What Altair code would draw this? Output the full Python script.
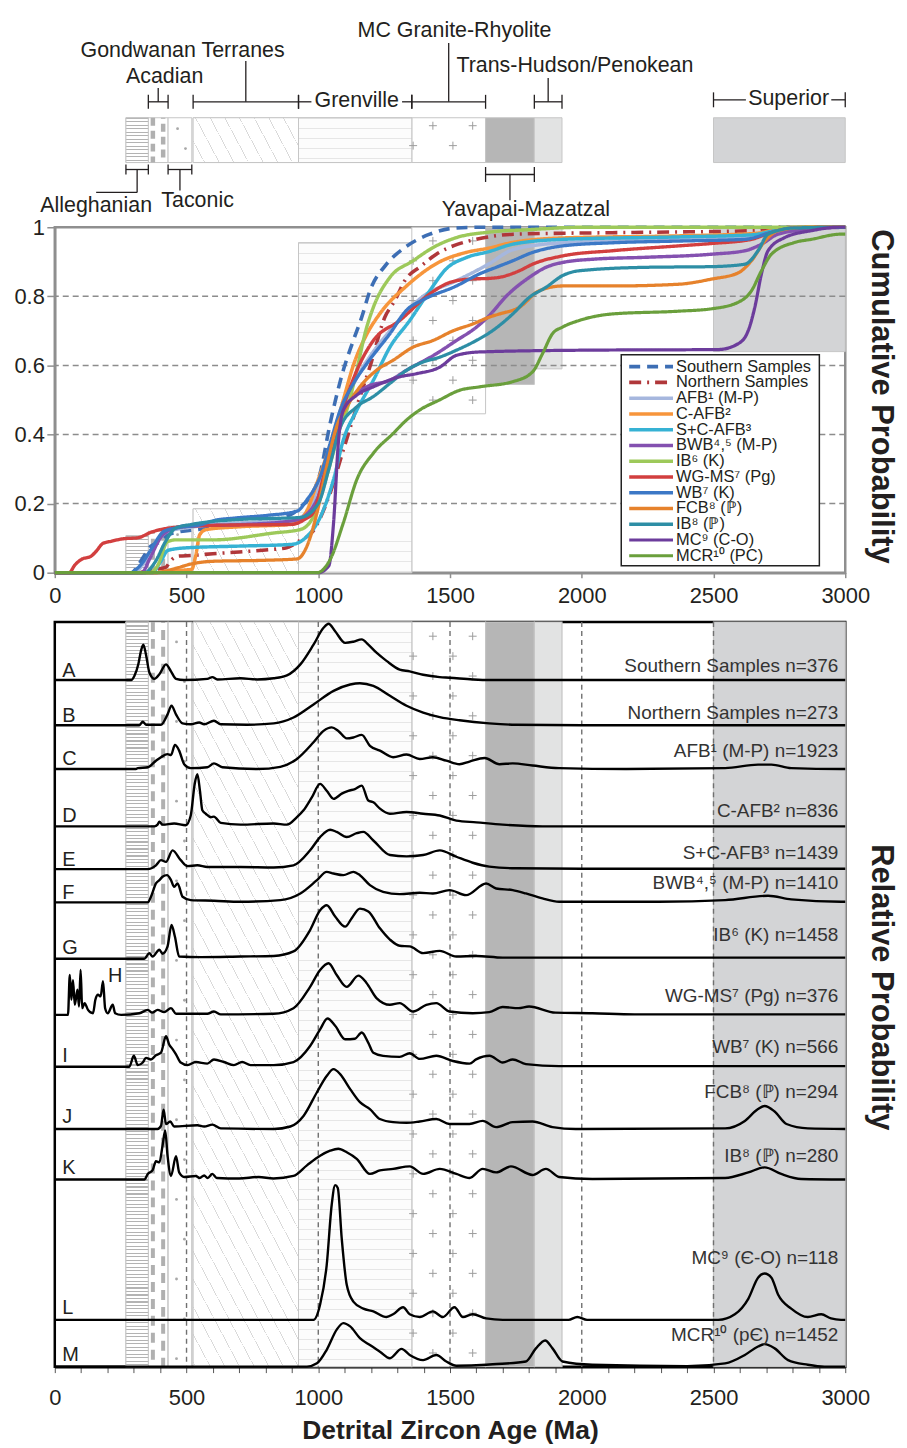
import math
import altair as alt
import pandas as pd

# ------------------------------------------------------------------ data
TERRANES = ["Alleghanian", "Acadian", "Taconic", "Gondwanan Terranes", "Grenville",
            "MC Granite-Rhyolite", "Yavapai-Mazatzal", "Trans-Hudson/Penokean", "Superior"]
T_START = [270, 355, 430, 525, 925, 1355, 1635, 1820, 2500]
T_END = [355, 430, 520, 925, 1355, 1635, 1820, 1925, 3000]
T_CUM_LOW = [0, 0, 0, 0, 0, 0.46, 0.545, 0.59, 0.64]
T_CUM_HIGH = [0.107, 0.12, 0.135, 0.185, 0.955, 1.0, 1.0, 1.0, 1.0]

SERIES = ["Southern Samples", "Northern Samples", "AFB¹ (M-P)", "C-AFB²", "S+C-AFB³",
          "BWB⁴,⁵ (M-P)", "IB⁶ (K)", "WG-MS⁷ (Pg)", "WB⁷ (K)", "FCB⁸ (ℙ)", "IB⁸ (ℙ)",
          "MC⁹ (C-O)", "MCR¹⁰ (PC)"]
LETTERS = ["A", "B", "C", "D", "E", "F", "G", "H", "I", "J", "K", "L", "M"]
REL_LABELS = ["Southern Samples n=376", "Northern Samples n=273", "AFB¹ (M-P) n=1923",
              "C-AFB² n=836", "S+C-AFB³ n=1439", "BWB⁴,⁵ (M-P) n=1410", "IB⁶ (K) n=1458",
              "WG-MS⁷ (Pg) n=376", "WB⁷ (K) n=566", "FCB⁸ (ℙ) n=294", "IB⁸ (ℙ) n=280",
              "MC⁹ (Є-O) n=118", "MCR¹⁰ (pЄ) n=1452"]
X_TICKS = [0, 500, 1000, 1500, 2000, 2500, 3000]
Y_TICKS = [0, 0.2, 0.4, 0.6, 0.8, 1.0]
GUIDE_AGES = [500, 1000, 1500, 2000, 2500]

# cumulative probability curves (age Ma, cumulative probability)
CUM_SOUTHERN = [(0,0),(290,0),(315,0.02),(340,0.05),(365,0.077),(400,0.09),(430,0.11),(470,0.118),(540,0.125),(600,0.13),(800,0.15),(900,0.17),(932,0.19),(970,0.22),(1007,0.288),(1045,0.432),(1095,0.586),(1133,0.672),(1165,0.74),(1196,0.816),(1259,0.893),(1328,0.941),(1423,0.98),(1511,0.997),(1624,1.0),(3000,1.0)]
CUM_NORTHERN = [(0,0),(320,0),(345,0.006),(420,0.015),(440,0.035),(470,0.048),(520,0.05),(600,0.055),(700,0.06),(800,0.066),(880,0.072),(930,0.093),(980,0.12),(1040,0.22),(1095,0.355),(1150,0.49),(1196,0.596),(1253,0.74),(1291,0.788),(1328,0.845),(1391,0.888),(1448,0.922),(1530,0.951),(1600,0.965),(1750,0.98),(2200,0.985),(2650,0.99),(2750,1.0),(3000,1.0)]
CUM_AFB = [(0,0),(300,0),(340,0.03),(380,0.08),(430,0.12),(500,0.13),(700,0.144),(900,0.15),(950,0.17),(1000,0.24),(1050,0.38),(1100,0.49),(1150,0.57),(1200,0.63),(1272,0.70),(1398,0.80),(1524,0.845),(1650,0.895),(1738,0.935),(1927,0.955),(2367,0.965),(2619,0.97),(2707,0.985),(2808,1.0),(3000,1.0)]
CUM_CAFB = [(0,0),(380,0),(440,0.005),(520,0.01),(535,0.05),(550,0.11),(575,0.125),(700,0.133),(900,0.14),(950,0.17),(1000,0.27),(1058,0.4),(1095,0.5),(1133,0.6),(1184,0.69),(1234,0.75),(1335,0.83),(1461,0.9),(1561,0.927),(1650,0.94),(1738,0.956),(1927,0.969),(2367,0.975),(2657,0.982),(2745,0.995),(2850,1.0),(3000,1.0)]
CUM_SCAFB = [(0,0),(370,0),(400,0.03),(430,0.065),(500,0.072),(700,0.077),(900,0.082),(950,0.1),(1007,0.16),(1058,0.27),(1095,0.384),(1146,0.47),(1209,0.557),(1272,0.653),(1347,0.73),(1423,0.816),(1486,0.88),(1561,0.912),(1650,0.93),(1738,0.951),(1927,0.965),(2367,0.972),(2644,0.978),(2745,0.992),(2850,1.0),(3000,1.0)]
CUM_BWB = [(0,0),(330,0),(360,0.04),(400,0.1),(440,0.125),(500,0.135),(700,0.139),(900,0.15),(950,0.165),(1000,0.22),(1070,0.41),(1121,0.5),(1184,0.538),(1272,0.557),(1335,0.586),(1448,0.634),(1524,0.672),(1599,0.71),(1650,0.745),(1713,0.8),(1801,0.855),(1864,0.884),(1927,0.898),(2053,0.908),(2241,0.913),(2493,0.922),(2619,0.932),(2682,0.951),(2745,0.98),(2871,0.995),(3000,1.0)]
CUM_IB6 = [(0,0),(360,0),(390,0.02),(428,0.09),(460,0.095),(600,0.095),(831,0.115),(932,0.125),(980,0.16),(1040,0.3),(1083,0.42),(1108,0.47),(1146,0.586),(1180,0.7),(1209,0.768),(1272,0.855),(1360,0.903),(1435,0.941),(1524,0.97),(1650,0.986),(1800,0.993),(2000,1.0),(3000,1.0)]
CUM_WGMS = [(0,0),(55,0),(75,0.021),(100,0.038),(138,0.048),(157,0.062),(183,0.085),(214,0.091),(258,0.098),(315,0.101),(365,0.117),(441,0.13),(600,0.137),(900,0.14),(950,0.155),(982,0.175),(1020,0.278),(1058,0.384),(1108,0.509),(1158,0.605),(1209,0.672),(1309,0.73),(1423,0.807),(1498,0.84),(1574,0.85),(1650,0.852),(1687,0.855),(1763,0.874),(1813,0.893),(1927,0.917),(2116,0.932),(2367,0.946),(2493,0.953),(2644,0.965),(2720,0.985),(2808,0.998),(3000,1.0)]
CUM_WB = [(0,0),(290,0),(310,0.01),(334,0.03),(365,0.067),(415,0.12),(466,0.13),(554,0.139),(604,0.151),(680,0.158),(806,0.166),(919,0.178),(957,0.211),(1007,0.278),(1045,0.374),(1083,0.47),(1133,0.547),(1184,0.605),(1272,0.692),(1335,0.76),(1398,0.79),(1524,0.83),(1612,0.865),(1675,0.884),(1738,0.903),(1813,0.927),(1927,0.946),(2116,0.955),(2367,0.96),(2619,0.965),(2720,0.985),(2808,0.998),(3000,1.0)]
CUM_FCB = [(0,0),(380,0),(420,0.005),(470,0.015),(516,0.025),(600,0.033),(800,0.036),(920,0.04),(957,0.077),(995,0.173),(1032,0.307),(1070,0.423),(1108,0.48),(1158,0.538),(1221,0.586),(1284,0.615),(1360,0.653),(1435,0.672),(1511,0.7),(1586,0.72),(1650,0.74),(1687,0.749),(1763,0.768),(1838,0.816),(1927,0.83),(2116,0.83),(2367,0.835),(2493,0.85),(2594,0.868),(2644,0.903),(2695,0.96),(2745,0.99),(2850,1.0),(3000,1.0)]
CUM_IB8 = [(0,0),(340,0),(380,0.03),(420,0.09),(460,0.13),(520,0.14),(700,0.154),(932,0.16),(1000,0.2),(1040,0.3),(1083,0.42),(1146,0.48),(1209,0.51),(1272,0.548),(1335,0.586),(1398,0.61),(1461,0.624),(1524,0.644),(1599,0.672),(1662,0.701),(1738,0.749),(1801,0.797),(1864,0.826),(1927,0.86),(1990,0.874),(2241,0.884),(2493,0.886),(2619,0.893),(2669,0.932),(2707,0.98),(2808,0.998),(3000,1.0)]
CUM_MC = [(0,0),(1000,0),(1040,0.02),(1058,0.144),(1077,0.384),(1095,0.47),(1146,0.514),(1209,0.538),(1309,0.567),(1372,0.576),(1461,0.595),(1524,0.629),(1612,0.639),(1990,0.644),(2518,0.646),(2594,0.663),(2632,0.701),(2657,0.769),(2682,0.865),(2707,0.932),(2770,0.97),(2871,0.99),(2972,1.0),(3000,1.0)]
CUM_MCR = [(0,0),(995,0),(1045,0.038),(1095,0.144),(1146,0.269),(1209,0.346),(1284,0.403),(1335,0.442),(1385,0.471),(1460,0.5),(1536,0.528),(1612,0.538),(1738,0.553),(1813,0.581),(1851,0.634),(1889,0.692),(1927,0.711),(1990,0.73),(2116,0.749),(2367,0.757),(2493,0.764),(2594,0.783),(2644,0.816),(2682,0.874),(2720,0.922),(2808,0.956),(2871,0.965),(2984,0.98),(3000,0.98)]

# relative probability curves (age Ma, probability scaled to each panel's peak)
REL_A = [(0,0),(290,0),(302,0.07),(317,0.27),(327,0.5),(336,0.61),(346,0.44),(359,0.13),(378,0.02),(397,0.1),(422,0.27),(441,0.15),(460,0.02),(491,0),(579,0.02),(598,0.05),(617,0.01),(705,0.03),(768,0.01),(831,0.03),(881,0.08),(932,0.27),(982,0.61),(1020,0.9),(1039,0.97),(1064,0.84),(1102,0.64),(1133,0.66),(1165,0.70),(1190,0.61),(1221,0.47),(1259,0.33),(1309,0.18),(1347,0.15),(1398,0.09),(1461,0.05),(1498,0.04),(1586,0.01),(1649,0),(3000,0)]
REL_B = [(0,0),(321,0),(334,0.08),(346,0.01),(403,0.01),(428,0.24),(443,0.43),(460,0.24),(485,0.04),(516,0.02),(548,0.06),(567,0.02),(604,0.1),(630,0.02),(730,0.01),(831,0.04),(906,0.17),(982,0.46),(1058,0.76),(1121,0.9),(1158,0.93),(1209,0.87),(1272,0.65),(1335,0.43),(1398,0.28),(1461,0.18),(1536,0.11),(1649,0.04),(1750,0.01),(2000,0),(3000,0)]
REL_C = [(0,0),(308,0),(315,0.02),(353,0.04),(384,0.19),(403,0.27),(428,0.34),(441,0.32),(456,0.55),(472,0.42),(491,0.11),(516,0.02),(579,0.04),(604,0.13),(636,0.04),(768,0),(856,0.05),(919,0.23),(982,0.61),(1020,0.87),(1051,0.95),(1076,0.87),(1108,0.7),(1133,0.72),(1165,0.78),(1196,0.53),(1234,0.42),(1284,0.27),(1335,0.33),(1385,0.23),(1435,0.27),(1486,0.19),(1536,0.11),(1574,0.17),(1631,0.25),(1688,0.11),(1738,0.13),(1813,0.08),(1914,0.02),(2166,0),(2544,0.02),(2669,0.1),(2720,0.1),(2795,0.02),(2984,0),(3000,0)]
REL_D = [(0,0),(378,0),(390,0.03),(397,0.08),(409,0.03),(453,0.05),(497,0.02),(516,0.19),(531,0.74),(541,0.91),(551,0.62),(560,0.28),(573,0.22),(592,0.16),(604,0.17),(630,0.06),(705,0.03),(831,0.05),(881,0.03),(919,0.16),(944,0.28),(976,0.51),(1007,0.74),(1032,0.62),(1058,0.48),(1089,0.57),(1114,0.62),(1139,0.65),(1165,0.71),(1190,0.45),(1209,0.42),(1234,0.31),(1272,0.22),(1335,0.25),(1398,0.22),(1461,0.19),(1524,0.1),(1600,0.07),(1700,0.03),(1851,0),(3000,0)]
REL_E = [(0,0),(353,0),(384,0.09),(403,0.21),(422,0.17),(447,0.44),(478,0.21),(504,0.07),(541,0.09),(579,0.05),(705,0.05),(831,0.04),(906,0.09),(969,0.44),(1007,0.75),(1045,0.92),(1070,0.87),(1108,0.75),(1146,0.84),(1171,0.87),(1209,0.67),(1272,0.33),(1335,0.3),(1398,0.33),(1461,0.44),(1524,0.29),(1586,0.15),(1649,0.06),(1750,0.02),(2000,0.01),(3000,0.01)]
REL_F = [(0,0),(353,0),(365,0.17),(384,0.57),(397,0.67),(409,0.77),(426,0.82),(441,0.67),(453,0.47),(466,0.57),(485,0.17),(516,0.07),(604,0.05),(705,0.02),(856,0.07),(932,0.27),(995,0.67),(1032,0.92),(1058,0.87),(1095,0.82),(1133,0.92),(1158,0.82),(1196,0.52),(1246,0.32),(1309,0.25),(1385,0.29),(1435,0.27),(1498,0.37),(1561,0.22),(1637,0.57),(1675,0.42),(1738,0.37),(1788,0.27),(1851,0.12),(1914,0.02),(2292,0.02),(2544,0.07),(2707,0.2),(2795,0.09),(2984,0.02),(3000,0.02)]
REL_G = [(0,0),(340,0),(359,0.1),(371,0.04),(397,0.16),(409,0.09),(428,0.22),(443,0.6),(456,0.39),(472,0.04),(554,0.03),(705,0.04),(831,0.05),(906,0.13),(969,0.51),(1007,0.86),(1032,0.95),(1064,0.75),(1102,0.57),(1127,0.72),(1158,0.89),(1190,0.84),(1234,0.54),(1272,0.34),(1309,0.23),(1347,0.22),(1398,0.1),(1461,0.14),(1524,0.04),(1600,0.05),(1700,0.02),(3000,0.02)]
REL_H = [(0,0),(50,0),(57,0.71),(63,0.27),(69,0.62),(76,0.18),(86,0.45),(92,0.15),(98,0.8),(104,0.12),(113,0.21),(126,0.09),(145,0.03),(154,0.27),(164,0.36),(174,0.33),(183,0.6),(191,0.12),(201,0.03),(220,0.18),(229,0.03),(252,0),(321,0.03),(353,0.09),(370,0.04),(390,0.09),(415,0.05),(441,0.12),(460,0.02),(579,0.02),(604,0.06),(630,0.01),(831,0.02),(906,0.12),(969,0.5),(1007,0.8),(1039,0.92),(1070,0.71),(1108,0.5),(1152,0.7),(1183,0.57),(1221,0.3),(1272,0.18),(1309,0.21),(1360,0.06),(1410,0.18),(1448,0.21),(1498,0.06),(1586,0.03),(1649,0.05),(1700,0.14),(1760,0.12),(1800,0.15),(1900,0.04),(2040,0.03),(2200,0.01),(3000,0.01)]
REL_I = [(0,0),(283,0),(300,0.21),(315,0.03),(334,0.08),(346,0.17),(365,0.14),(384,0.22),(403,0.27),(422,0.59),(434,0.43),(447,0.34),(460,0.24),(478,0.08),(504,0.03),(535,0.09),(579,0.06),(604,0.14),(642,0.09),(680,0.03),(711,0.09),(743,0.03),(831,0.03),(906,0.09),(969,0.4),(1007,0.72),(1035,0.93),(1064,0.79),(1102,0.53),(1139,0.54),(1165,0.66),(1190,0.46),(1209,0.27),(1246,0.21),(1309,0.19),(1347,0.26),(1385,0.15),(1448,0.21),(1511,0.11),(1574,0.06),(1599,0.14),(1650,0.21),(1700,0.08),(1738,0.14),(1788,0.05),(1914,0.01),(3000,0.01)]
REL_J = [(0,0),(390,0),(403,0.05),(413,0.31),(422,0.08),(438,0.12),(453,0.04),(541,0.06),(567,0.04),(598,0.07),(630,0.01),(831,0),(894,0.04),(944,0.21),(995,0.59),(1032,0.85),(1058,0.96),(1083,0.88),(1121,0.64),(1158,0.43),(1196,0.32),(1234,0.16),(1284,0.11),(1335,0.1),(1385,0.12),(1448,0.16),(1498,0.08),(1574,0.08),(1624,0.13),(1675,0.03),(1738,0.11),(1813,0.12),(1889,0.03),(1977,0),(2544,0.01),(2619,0.13),(2669,0.32),(2694,0.37),(2732,0.28),(2777,0.08),(2858,0.01),(3000,0)]
REL_K = [(0,0),(340,0),(353,0.11),(371,0.18),(384,0.36),(397,0.34),(409,0.67),(419,0.97),(428,0.47),(441,0.07),(460,0.46),(472,0.14),(491,0.05),(535,0.07),(550,0.03),(567,0.08),(580,0.03),(598,0.11),(615,0.03),(700,0.02),(774,0.05),(830,0.02),(906,0.07),(957,0.28),(1007,0.47),(1045,0.57),(1076,0.61),(1108,0.54),(1146,0.41),(1196,0.11),(1234,0.18),(1284,0.21),(1347,0.26),(1398,0.11),(1461,0.21),(1524,0.11),(1574,0.03),(1624,0.21),(1675,0.14),(1731,0.26),(1813,0.09),(1864,0.21),(1914,0.05),(2040,0.01),(2544,0.03),(2632,0.14),(2694,0.24),(2757,0.11),(2833,0.01),(3000,0)]
REL_L = [(0,0),(982,0),(1007,0.11),(1032,0.39),(1051,0.82),(1064,0.96),(1074,0.94),(1089,0.58),(1108,0.25),(1133,0.13),(1171,0.08),(1209,0.06),(1259,0.02),(1284,0.04),(1322,0.09),(1347,0.04),(1385,0.02),(1435,0.06),(1473,0.02),(1517,0.09),(1549,0.02),(1586,0.04),(1637,0.01),(1700,0),(1950,0),(1983,0.02),(2020,0),(2518,0),(2581,0.04),(2632,0.15),(2669,0.3),(2694,0.33),(2720,0.3),(2745,0.18),(2795,0.08),(2858,0.02),(2909,0.04),(2946,0.01),(2984,0),(3000,0)]
REL_M = [(0,0),(957,0),(995,0.07),(1032,0.36),(1070,0.79),(1095,0.93),(1121,0.86),(1158,0.61),(1196,0.46),(1234,0.32),(1272,0.18),(1316,0.38),(1347,0.25),(1398,0.14),(1448,0.25),(1486,0.11),(1524,0.02),(1637,0.04),(1662,0.05),(1788,0.11),(1826,0.39),(1861,0.56),(1889,0.39),(1927,0.11),(2040,0.04),(2400,0.01),(2544,0.07),(2619,0.25),(2669,0.43),(2694,0.48),(2732,0.39),(2783,0.14),(2858,0.04),(2921,0),(3000,0)]

CUM_CURVES = [CUM_SOUTHERN, CUM_NORTHERN, CUM_AFB, CUM_CAFB, CUM_SCAFB, CUM_BWB, CUM_IB6,
              CUM_WGMS, CUM_WB, CUM_FCB, CUM_IB8, CUM_MC, CUM_MCR]
REL_CURVES = [REL_A, REL_B, REL_C, REL_D, REL_E, REL_F, REL_G, REL_H, REL_I, REL_J, REL_K,
              REL_L, REL_M]

# ------------------------------------------------------------------ style / layout
FONT = "Liberation Sans"
INK = "#231f20"
W = 794
H_STRIP, H_CUM, H_REL = 209, 347, 748
PX = W / 3000.0
TITLE_DX = 36
SPACE_TOP, SPACE_BOTTOM = -6, 9.5
TICK_FS = 22

COLORS = ["#3d6eb4", "#b0373a", "#a6b7de", "#f7953b", "#36b2d4", "#8451b0", "#9dc95a",
          "#d23f3f", "#3c78c6", "#e6822c", "#2d8ea5", "#6c3c9c", "#6a9f3c"]
DASHES = [[11, 7], [12, 6, 2, 6]] + [[1, 0]] * 11
WIDTHS = [3.6, 3.2, 3.0] + [2.2] * 10
FILLS = ["#ffffff", "#ffffff", "#ffffff", "#ffffff", "#fcfcfc", "#ffffff",
         "#b6b6b6", "#e2e3e3", "#d3d4d6"]
TEXTURES = {
    "Alleghanian": dict(angle=0, period=3.5, line=1.1, color="#b3b3b3", bg="#ffffff"),
    "Gondwanan Terranes": dict(angle=62, period=13, line=0.8, color="#dadada", bg="#ffffff"),
    "Grenville": dict(angle=0, period=10, line=1.0, color="#e6e6e6", bg="#fcfcfc"),
}

# top strip annotation layout (pixels from top of strip)
BOX_TOP, BOX_BOT = 107, 152
BRACKET_Y = [159, 91, 159, 91, 91, 91, 164, 91, 89]
TICK_HALF = [5, 7, 5, 7, 7, 7, 7.5, 7, 7.5]
STEM_END = [182, 77, 180, 50, None, 32, 190, 67, None]
LABEL_X = [157, 417, 542, 485, 1146, 1517, 1788, 1974, 2785]
LABEL_Y = [195.5, 66.5, 190.5, 39.5, 90.5, 19.5, 199.5, 55.3, 88.5]
INLINE_GAP = [0, 0, 0, 0, 172, 0, 0, 0, 162]

# relative-panel layout (pixels)
PANEL_H = [58.3, 45.4, 44.0, 57.6, 43.0, 33.4, 56.6, 56.4, 52.0, 62.6, 50.7, 141.0, 47.0]
LABEL_UP = [14.3, 12.7, 17.7, 15.3, 16.6, 19.0, 24.0, 18.7, 20.0, 36.8, 24.0, 61.7, 32.0]
LETTER_UP = [9.3, 9.7, 9.7, 10.3, 9.6, 9.7, 10.6, 38.7, 10.7, 11.6, 11.0, 12.0, 12.0]
LETTER_X = [28, 28, 28, 28, 28, 28, 28, 202, 28, 28, 28, 28, 28]

XS = alt.Scale(domain=[0, 3000], nice=False, zero=False)
Y_STRIP = alt.Scale(domain=[0, H_STRIP], reverse=True, nice=False, zero=False)
YC = alt.Scale(domain=[0, 1], nice=False, zero=False)
YR = alt.Scale(domain=[0, H_REL], nice=False, zero=False)
CROSS = "M-1,0L1,0M0,-1L0,1"

cum_x_axis = alt.Axis(values=X_TICKS, format="d", title=None, grid=False, tickSize=5,
                      tickColor="#8f8f8f", tickWidth=1.5, domainColor="#8f8f8f",
                      domainWidth=2.5, labelFontSize=TICK_FS, labelColor=INK, labelPadding=7.5,
                      labelFlush=False, labelFont=FONT)
cum_y_axis = alt.Axis(values=Y_TICKS, title=None, grid=False, ticks=True, tickSize=8,
                      tickColor="#8f8f8f", tickWidth=1.5,
                      domainColor="#8f8f8f", domainWidth=2.5, labelFontSize=TICK_FS,
                      labelColor=INK, labelPadding=2.5, minExtent=45, labelFont=FONT,
                      labelExpr="datum.value == 0 ? '0' : (datum.value == 1 ? '1' : format(datum.value, '.1f'))")
rel_x_axis = alt.Axis(values=list(range(0, 3001, 100)), format="d",
                      labelExpr="datum.value % 500 === 0 ? datum.label : ''",
                      title="Detrital Zircon Age (Ma)", titleFontSize=26.5,
                      titleFontWeight="bold", titleColor=INK, titlePadding=9, titleFont=FONT,
                      grid=False, tickSize=6, tickColor="#555555", tickWidth=1,
                      domainColor="black", domainWidth=2.5, labelFontSize=TICK_FS,
                      labelColor=INK, labelPadding=15, labelFlush=False, labelOverlap=False,
                      labelFont=FONT)


def stripe_gradient(w, h, angle, period, line, color, bg):
    th = math.radians(angle)
    nx, ny = -math.sin(th), math.cos(th)
    corners = [(0, 0), (w, 0), (0, h), (w, h)]
    ps = [nx * cx + ny * cy for cx, cy in corners]
    pmin, pmax = min(ps), max(ps)
    span = pmax - pmin
    cx, cy = corners[ps.index(pmin)]
    ax, ay = nx * w / span, ny * h / span
    a2 = ax * ax + ay * ay
    x1, y1 = cx / w, cy / h
    x2, y2 = x1 + ax / a2, y1 + ay / a2
    n = span / period
    stops = []
    k = 0
    while k < n:
        o0 = k / n
        o1 = min((k + line / period) / n, 1.0)
        o2 = min((k + 1) / n, 1.0)
        for off, col in ((o0, color), (o1, color), (o1, bg), (o2, bg)):
            stops.append(alt.GradientStop(offset=round(off, 5), color=col))
        k += 1
    return alt.LinearGradient(gradient="linear", stops=stops, x1=round(x1, 5),
                              y1=round(y1, 5), x2=round(x2, 5), y2=round(y2, 5))


terr = pd.DataFrame({"terrane": TERRANES, "start": T_START, "end": T_END,
                     "lo": T_CUM_LOW, "hi": T_CUM_HIGH})
FILL_ENC = alt.Fill("terrane:N", scale=alt.Scale(domain=TERRANES, range=FILLS), legend=None)


def make_xq(axis):
    def xq(field):
        return alt.X(field, type="quantitative", scale=XS, axis=axis)
    return xq


def texture_layers(xq, enc_y, height_of):
    out = []
    for t, st in TEXTURES.items():
        i = TERRANES.index(t)
        grad = stripe_gradient((T_END[i] - T_START[i]) * PX, height_of(i), **st)
        out.append(alt.Chart(terr).transform_filter(alt.datum.terrane == t)
                   .mark_rect(fill=grad, stroke="#c6c6c6", strokeWidth=1)
                   .encode(x=xq("start"), x2="end", **enc_y))
    return out


def acadian_layers(xq, enc_y, dash, width):
    out = []
    for frac, off in ((0.23, 0), (0.75, dash[0] - 1)):
        out.append(alt.Chart(terr).transform_filter(alt.datum.terrane == "Acadian")
                   .transform_calculate(xv=f"datum.start + {frac}*(datum.end - datum.start)")
                   .mark_rule(color="#b0b0b0", strokeWidth=width, strokeDash=dash,
                              strokeDashOffset=off)
                   .encode(x=xq("xv"), **enc_y))
    return out


def grid_layer(xq, xe, xo, y0, dy, nrows, yscale, shape, size, color, filled, sw):
    k = len(xe)
    return (alt.Chart(alt.sequence(0, nrows * k, as_="i"))
            .transform_calculate(r=f"floor(datum.i / {k})", c=f"datum.i % {k}")
            .transform_calculate(gx=f"(datum.r % 2 == 0 ? {list(xe)} : {list(xo)})[datum.c]",
                                 gy=f"{y0} + ({dy}) * datum.r")
            .mark_point(shape=shape, size=size, filled=filled, color=color,
                        strokeWidth=sw, opacity=1)
            .encode(x=xq("gx"), y=alt.Y("gy:Q", scale=yscale, axis=None)))


# ------------------------------------------------------------------ top strip
xs_ = make_xq(None)
segs = []
for i, t in enumerate(TERRANES):
    s, e, y, th = T_START[i], T_END[i], BRACKET_Y[i], TICK_HALF[i]
    segs += [(s, s, y - th, y + th), (e, e, y - th, y + th)]
    if INLINE_GAP[i]:
        segs += [(s, LABEL_X[i] - INLINE_GAP[i], y, y), (LABEL_X[i] + INLINE_GAP[i], e, y, y)]
    else:
        segs.append((s, e, y, y))
    if STEM_END[i] is not None:
        m = (s + e) / 2
        segs.append((m, m, y, STEM_END[i]))
        if t == "Alleghanian":
            segs.append((LABEL_X[i], m, STEM_END[i], STEM_END[i]))
seg_df = pd.DataFrame(segs, columns=["x", "x2", "y", "y2"])
strip_enc_y = dict(y=alt.value(BOX_TOP), y2=alt.value(BOX_BOT))

strip_layers = [
    alt.Chart(terr).mark_rect(stroke="#c6c6c6", strokeWidth=1).encode(
        x=xs_("start"), x2="end", fill=FILL_ENC, **strip_enc_y),
    *texture_layers(xs_, strip_enc_y, lambda i: BOX_BOT - BOX_TOP),
    *acadian_layers(xs_, strip_enc_y, [8, 5], 4.5),
    grid_layer(xs_, [466], [496], 118, 20, 2, Y_STRIP, "circle", 8, "#a8a8a8", True, 0),
    grid_layer(xs_, [1435, 1586], [1360, 1511], 115, 20, 2, Y_STRIP, CROSS, 64, "#9c9c9c",
               False, 1),
    alt.Chart(seg_df).mark_rule(color=INK, strokeWidth=1.3).encode(
        x=xs_("x"), x2="x2", y=alt.Y("y:Q", scale=Y_STRIP, axis=None), y2="y2"),
    alt.Chart(pd.DataFrame({"terrane": TERRANES, "lx": LABEL_X, "ly": LABEL_Y}))
    .mark_text(font=FONT, fontSize=21.5, color=INK, baseline="middle", align="center")
    .encode(x=xs_("lx"), y=alt.Y("ly:Q", scale=Y_STRIP, axis=None), text="terrane:N"),
]
strip = alt.layer(*strip_layers).properties(width=W, height=H_STRIP)

# ------------------------------------------------------------------ cumulative chart
xc_ = make_xq(cum_x_axis)
cum_df = pd.DataFrame([{"name": n, "age": a, "p": p}
                       for n, pts in zip(SERIES, CUM_CURVES) for a, p in pts])
leg_df = pd.DataFrame({"name": SERIES})
COLOR_ENC = alt.Color("name:N", scale=alt.Scale(domain=SERIES, range=COLORS), legend=None)
DASH_ENC = alt.StrokeDash("name:N", scale=alt.Scale(domain=SERIES, range=DASHES), legend=None)
WIDTH_ENC = alt.StrokeWidth("name:N", scale=alt.Scale(domain=SERIES, range=WIDTHS), legend=None)
LEG_Y = alt.Y("name:N", scale=alt.Scale(type="point", domain=SERIES, range=[140, 330],
                                        padding=0), axis=None)
cum_enc_y = dict(y=alt.Y("lo:Q", scale=YC, axis=None), y2="hi")

cum_layers = [
    alt.Chart(terr).mark_rect(stroke="#c6c6c6", strokeWidth=1).encode(
        x=xc_("start"), x2="end",
        y=alt.Y("lo:Q", scale=YC, axis=cum_y_axis), y2="hi", fill=FILL_ENC),
    *texture_layers(xc_, cum_enc_y, lambda i: (T_CUM_HIGH[i] - T_CUM_LOW[i]) * H_CUM),
    *acadian_layers(xc_, cum_enc_y, [8, 5], 4),
    grid_layer(xc_, [466], [496], 0.11, -0.0576, 2, YC, "circle", 8, "#a8a8a8", True, 0),
    grid_layer(xc_, [1435, 1586], [1360, 1511], 0.9605, -0.0576, 9, YC, CROSS, 64,
               "#9c9c9c", False, 1),
    alt.Chart(pd.DataFrame({"p": Y_TICKS[1:-1]})).mark_rule(
        color="#8c8c8c", strokeDash=[6, 4], strokeWidth=1.5).encode(
        y=alt.Y("p:Q", scale=YC, axis=None)),
    alt.Chart(cum_df).mark_line(interpolate="monotone").encode(
        x=xc_("age"), y=alt.Y("p:Q", scale=YC, axis=None),
        color=COLOR_ENC, strokeDash=DASH_ENC, strokeWidth=WIDTH_ENC),
    alt.Chart(pd.DataFrame({"k": [0]})).mark_rect(
        fill="white", stroke="#222222", strokeWidth=1.5).encode(
        x=alt.value(569), x2=alt.value(768), y=alt.value(128), y2=alt.value(340)),
    alt.Chart(leg_df).mark_rule().encode(
        x=alt.value(577), x2=alt.value(621), y=LEG_Y,
        color=COLOR_ENC, strokeDash=DASH_ENC, strokeWidth=WIDTH_ENC),
    alt.Chart(leg_df).mark_text(font=FONT, fontSize=16.5, color=INK, align="left",
                                baseline="middle").encode(
        x=alt.value(624), y=LEG_Y, text="name:N"),
    alt.Chart(pd.DataFrame({"t": ["Cumulative Probability"]})).mark_text(
        font=FONT, fontSize=31, fontWeight="bold", color=INK, angle=90,
        align="center", baseline="middle").encode(
        x=alt.value(W + TITLE_DX), y=alt.value(170), text="t:N"),
]
cum = (alt.layer(*cum_layers)
       .resolve_scale(y="independent")
       .properties(width=W, height=H_CUM,
                   view=alt.ViewBackground(stroke="#8f8f8f", strokeWidth=2.5)))

# ------------------------------------------------------------------ relative chart
xr_ = make_xq(rel_x_axis)
bases = []
acc = 0.0
for h in reversed(PANEL_H):
    bases.append(acc)
    acc += h
bases = list(reversed(bases))
lay_df = pd.DataFrame({"sample": LETTERS, "base": bases, "h": PANEL_H, "label": REL_LABELS,
                       "lab_up": LABEL_UP, "let_up": LETTER_UP, "lx": LETTER_X})
rel_df = pd.DataFrame([{"sample": s, "age": a, "v": v}
                       for s, pts in zip(LETTERS, REL_CURVES) for a, v in pts])

rel_layers = [
    alt.Chart(terr).mark_rect(stroke="#c4c4c4", strokeWidth=1.2).encode(
        x=xr_("start"), x2="end", fill=FILL_ENC),
    *texture_layers(xr_, {}, lambda i: H_REL),
    *acadian_layers(xr_, {}, [10, 7], 4),
    grid_layer(xr_, [462], [492], 728, -40, 19, YR, "circle", 8, "#a8a8a8", True, 0),
    grid_layer(xr_, [1435, 1586], [1360, 1511], 733.7, -20, 37, YR, CROSS, 64, "#9c9c9c",
               False, 1),
    alt.Chart(pd.DataFrame({"age": GUIDE_AGES})).mark_rule(
        color="#707070", strokeDash=[5, 4], strokeWidth=1.4).encode(x=xr_("age")),
    alt.Chart(rel_df)
    .transform_lookup(lookup="sample", from_=alt.LookupData(lay_df, "sample", ["base", "h"]))
    .transform_calculate(yy="datum.base + datum.v * datum.h")
    .mark_line(interpolate="monotone", color="black", strokeWidth=2.4)
    .encode(x=xr_("age"), y=alt.Y("yy:Q", scale=YR, axis=None), detail="sample:N"),
    alt.Chart(lay_df).transform_calculate(ly="datum.base + datum.let_up")
    .mark_text(font=FONT, fontSize=20, color=INK, align="left", baseline="middle")
    .encode(x=xr_("lx"), y=alt.Y("ly:Q", scale=YR, axis=None), text="sample:N"),
    alt.Chart(lay_df).transform_calculate(ly="datum.base + datum.lab_up")
    .mark_text(font=FONT, fontSize=19, color="#333333", align="right", baseline="middle")
    .encode(x=alt.value(W - 7), y=alt.Y("ly:Q", scale=YR, axis=None), text="label:N"),
    alt.Chart(pd.DataFrame({"t": ["Relative Probability"]})).mark_text(
        font=FONT, fontSize=31, fontWeight="bold", color=INK, angle=90,
        align="center", baseline="middle").encode(
        x=alt.value(W + TITLE_DX), y=alt.value(367), text="t:N"),
]
rel = alt.layer(*rel_layers).properties(
    width=W, height=H_REL, view=alt.ViewBackground(stroke="black", strokeWidth=2.5))

chart = (alt.vconcat(alt.vconcat(strip, cum, spacing=SPACE_TOP), rel, spacing=SPACE_BOTTOM)
         .properties(padding={"left": 0, "top": 0, "right": 0, "bottom": 0})
         .configure(font=FONT)
         .configure_view(strokeWidth=0))

chart.save("out.html", embed_options={"renderer": "svg", "actions": False})
